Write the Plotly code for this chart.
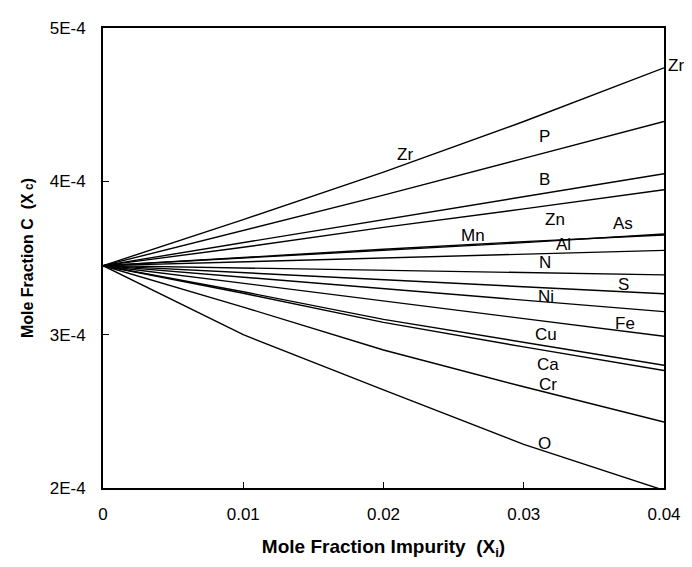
import plotly.graph_objects as go

# mole fraction impurity
x_vals = [0, 0.01, 0.02, 0.03, 0.04]

# mole fraction C (units of 1E-4) for each impurity element
Zr = [3.45, 3.75, 4.06, 4.39, 4.74]
P = [3.45, 3.68, 3.91, 4.15, 4.39]
B = [3.45, 3.60, 3.75, 3.90, 4.05]
Zn = [3.45, 3.57, 3.70, 3.82, 3.945]
As = [3.45, 3.50, 3.55, 3.60, 3.657]
Mn = [3.45, 3.505, 3.557, 3.607, 3.65]
Al = [3.45, 3.475, 3.50, 3.525, 3.55]
N = [3.45, 3.435, 3.42, 3.405, 3.39]
S = [3.45, 3.405, 3.36, 3.315, 3.267]
Ni = [3.45, 3.375, 3.30, 3.225, 3.15]
Fe = [3.45, 3.335, 3.22, 3.105, 2.99]
Cu = [3.45, 3.28, 3.10, 2.95, 2.80]
Ca = [3.45, 3.27, 3.08, 2.92, 2.766]
Cr = [3.45, 3.18, 2.90, 2.66, 2.43]
O = [3.45, 3.00, 2.64, 2.285, 1.985]

series = [Zr, P, B, Zn, As, Mn, Al, N, S, Ni, Fe, Cu, Ca, Cr, O]

# label text and where it sits
label_text = ["Zr", "P", "B", "Zn", "As", "Mn", "Al", "N", "S", "Ni", "Fe", "Cu", "Ca", "Cr", "O"]
label_x = [0.0215, 0.0315, 0.0315, 0.0322, 0.0371, 0.0264, 0.0328, 0.0315, 0.0371, 0.0316, 0.0372, 0.0316, 0.0317, 0.0317, 0.0315]
label_y = [4.175, 4.29, 4.015, 3.753, 3.727, 3.65, 3.587, 3.47, 3.33, 3.248, 3.075, 3.0, 2.806, 2.672, 2.288]

# second Zr label, just right of the plot
zr_end_x = 0.04083
zr_end_y = 4.757

y_ticks = [2e-4, 3e-4, 4e-4, 5e-4]
y_ticktext = ["2E-4", "3E-4", "4E-4", "5E-4"]
x_ticks = [0, 0.01, 0.02, 0.03, 0.04]
x_ticktext = ["0", "0.01", "0.02", "0.03", "0.04"]

fig = go.Figure()
for s in series:
    fig.add_trace(go.Scatter(x=x_vals, y=[v * 1e-4 for v in s], mode="lines",
                             line=dict(color="black", width=1.4), showlegend=False))

for t, lx, ly in zip(label_text, label_x, label_y):
    fig.add_annotation(x=lx, y=ly * 1e-4, text=t, showarrow=False, xanchor="center",
                       font=dict(size=17, color="black"))

fig.add_annotation(x=zr_end_x / 0.04, xref="x domain", y=zr_end_y * 1e-4, text="Zr",
                   showarrow=False, xanchor="center", font=dict(size=17, color="black"))

fig.update_layout(
    width=692, height=567,
    margin=dict(l=95, r=36, t=11, b=87),
    plot_bgcolor="white", paper_bgcolor="white",
    font=dict(family="Liberation Sans, Arial", color="black", size=17),
)
fig.update_xaxes(range=[0, 0.04], tickvals=x_ticks, ticktext=x_ticktext,
                 tickfont=dict(size=17), ticklabelstandoff=10,
                 showgrid=False, zeroline=False, showline=True, linecolor="black", linewidth=2,
                 mirror=True, ticks="inside", ticklen=6, tickcolor="black",
                 title=dict(text="<b>Mole Fraction Impurity  (X<sub>i</sub>)</b>", font=dict(size=19), standoff=16))
fig.update_yaxes(range=[2e-4, 5e-4], tickvals=y_ticks, ticktext=y_ticktext,
                 tickfont=dict(size=17), ticklabelstandoff=12,
                 showgrid=False, zeroline=False, showline=True, linecolor="black", linewidth=2,
                 mirror=True, ticks="inside", ticklen=6, tickcolor="black",
                 title=dict(text="<b>Mole Fraction C  (X<span style='font-size:12px'> c</span>)</b>", font=dict(size=16), standoff=12))

fig.write_html("out.html")
